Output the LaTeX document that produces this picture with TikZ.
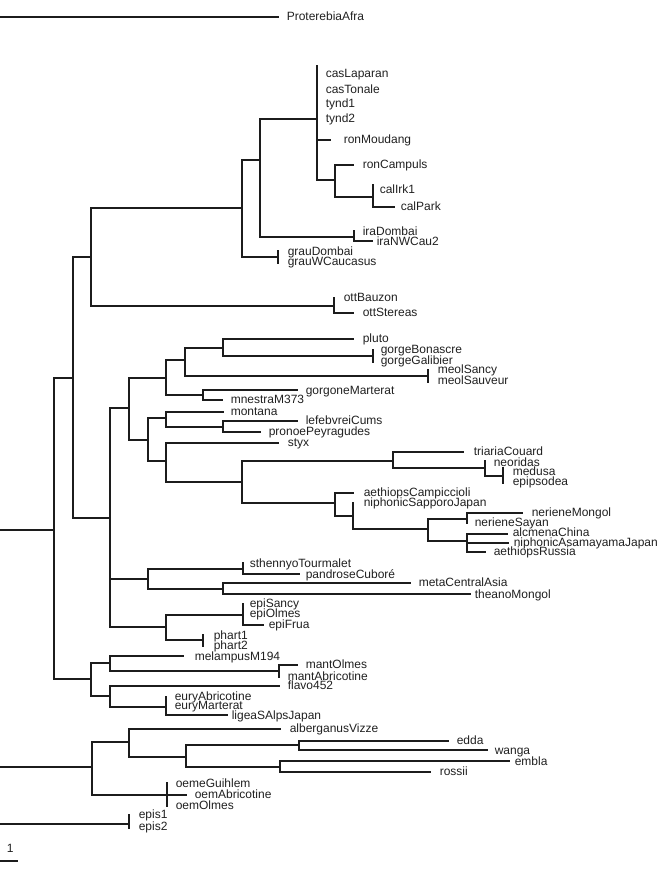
\documentclass[tikz,border=0pt]{standalone}
\usepackage{fontspec}
\setmainfont{Liberation Sans}
\definecolor{branch}{HTML}{1C1C1C}
\definecolor{ink}{HTML}{202020}

\begin{document}
\begin{tikzpicture}[
    x=0.75pt, y=-0.75pt,
    line width=1.15pt, line cap=rect, color=branch,
    tip/.style={anchor=mid west, inner sep=0pt, text=ink,
                font=\fontsize{9}{10}\selectfont}]
  % canvas in pixels of the reference
  \path[use as bounding box] (0,0) rectangle (659,874);

  % ================= root and outgroup =================
  \draw (0,17) -- (278,17);
  \draw (0,530) -- (54,530);
  \draw (0,767) -- (92,767);
  \draw (0,824) -- (129,824);
  \node[tip] (proterebia) at (286,17) {ProterebiaAfra};

  % ================= upper clades =================
  \draw (73,378) -- (54,378) -- (54,679) -- (91,679);
  \draw (91,257) -- (73,257) -- (73,518) -- (110,518);
  \draw (242,208) -- (91,208) -- (91,306) -- (334,306);
  % ott
  \draw (334,298) -- (334,313) -- (353,313);
  \node[tip] (ottBauzon) at (343,298) {ottBauzon};
  \node[tip] (ottStereas) at (362,313) {ottStereas};
  % grau
  \draw (260,160) -- (242,160) -- (242,257) -- (278,257);
  \draw (278,251) -- (278,263);
  \node[tip] (grauDombai) at (287,252) {grauDombai};
  \node[tip] (grauWCaucasus) at (287,262) {grauWCaucasus};
  % ira
  \draw (317,119) -- (260,119) -- (260,237) -- (354,237);
  \draw (354,231) -- (354,241) -- (372,241);
  \node[tip] (iraDombai) at (362,232) {iraDombai};
  \node[tip] (iraNWCau2) at (376,242) {iraNWCau2};
  % cas, tynd, ron, cal
  \draw (317,66) -- (317,180) -- (335,180);
  \draw (317,140) -- (330,140);
  \node[tip] (casLaparan) at (325,74) {casLaparan};
  \node[tip] (casTonale) at (325,90) {casTonale};
  \node[tip] (tyndA) at (325,104) {tynd1};
  \node[tip] (tyndB) at (325,119) {tynd2};
  \node[tip] (ronMoudang) at (343,140) {ronMoudang};
  \draw (353,165) -- (335,165) -- (335,197) -- (373,197);
  \node[tip] (ronCampuls) at (362,165) {ronCampuls};
  \draw (373,185) -- (373,207) -- (394,207);
  \node[tip] (calIrk) at (379,190) {calIrk1};
  \node[tip] (calPark) at (400,207) {calPark};

  % ================= middle clades =================
  \draw (129,408) -- (110,408) -- (110,627) -- (166,627);
  \draw (110,579) -- (148,579);
  \draw (166,378) -- (129,378) -- (129,440) -- (148,440);
  \draw (185,360) -- (166,360) -- (166,395) -- (203,395);
  \draw (223,348) -- (185,348) -- (185,376) -- (428,376);
  \draw (428,370) -- (428,382);
  \node[tip] (meolSancy) at (437,370) {meolSancy};
  \node[tip] (meolSauveur) at (437,381) {meolSauveur};
  \draw (353,339) -- (223,339) -- (223,356) -- (373,356);
  \draw (373,350) -- (373,362);
  \node[tip] (pluto) at (362,339) {pluto};
  \node[tip] (gorgeBonascre) at (380,350) {gorgeBonascre};
  \node[tip] (gorgeGalibier) at (380,361) {gorgeGalibier};
  \draw (297,390) -- (203,390) -- (203,400) -- (222,400);
  \node[tip] (gorgoneMarterat) at (305,391) {gorgoneMarterat};
  \node[tip] (mnestra) at (230,400) {mnestraM373};
  % montana, lefebvrei, pronoe
  \draw (166,418) -- (148,418) -- (148,461) -- (166,461);
  \draw (223,412) -- (166,412) -- (166,427) -- (223,427);
  \draw (297,421) -- (223,421) -- (223,432) -- (260,432);
  \node[tip] (montana) at (230,412) {montana};
  \node[tip] (lefebvreiCums) at (305,421) {lefebvreiCums};
  \node[tip] (pronoePeyragudes) at (268,432) {pronoePeyragudes};
  % styx and relatives
  \draw (278,443) -- (166,443) -- (166,482) -- (242,482);
  \node[tip] (styx) at (287,443) {styx};
  \draw (393,461) -- (242,461) -- (242,503) -- (335,503);
  \draw (463,452) -- (393,452) -- (393,468) -- (485,468);
  \node[tip] (triariaCouard) at (473,452) {triariaCouard};
  \draw (485,461) -- (485,476) -- (503,476);
  \draw (503,468) -- (503,483);
  \node[tip] (neoridas) at (493,463) {neoridas};
  \node[tip] (medusa) at (512,472) {medusa};
  \node[tip] (epipsodea) at (512,482) {epipsodea};
  % aethiops, niphonic, neriene
  \draw (353,493) -- (335,493) -- (335,516) -- (353,516);
  \draw (353,503) -- (353,529) -- (428,529);
  \node[tip] (aethiopsCamp) at (363,493) {aethiopsCampiccioli};
  \node[tip] (niphonicSapporo) at (363,503) {niphonicSapporoJapan};
  \draw (467,519) -- (428,519) -- (428,541) -- (467,541);
  \draw (522,513) -- (467,513) -- (467,523);
  \node[tip] (nerieneMongol) at (531,513) {nerieneMongol};
  \node[tip] (nerieneSayan) at (474,523) {nerieneSayan};
  \draw (507,534) -- (467,534) -- (467,552) -- (485,552);
  \draw (467,543) -- (508,543);
  \node[tip] (alcmenaChina) at (512,533) {alcmenaChina};
  \node[tip] (niphonicAsama) at (513,543) {niphonicAsamayamaJapan};
  \node[tip] (aethiopsRussia) at (493,552) {aethiopsRussia};
  % sthennyo, pandrose, meta, theano
  \draw (243,569) -- (148,569) -- (148,589) -- (223,589);
  \draw (243,563) -- (243,574) -- (299,574);
  \node[tip] (sthennyo) at (249,564) {sthennyoTourmalet};
  \node[tip] (pandrose) at (305,575) {pandroseCuboré};
  \draw (410,583) -- (223,583) -- (223,594) -- (470,594);
  \node[tip] (metaCentralAsia) at (418,583) {metaCentralAsia};
  \node[tip] (theanoMongol) at (474,595) {theanoMongol};
  % epi, phart
  \draw (243,615) -- (166,615) -- (166,640) -- (203,640);
  \draw (243,604) -- (243,625) -- (263,625);
  \node[tip] (epiSancy) at (249,604) {epiSancy};
  \node[tip] (epiOlmes) at (249,614) {epiOlmes};
  \node[tip] (epiFrua) at (268,625) {epiFrua};
  \draw (203,635) -- (203,646);
  \node[tip] (phartA) at (213,636) {phart1};
  \node[tip] (phartB) at (213,646) {phart2};

  % ================= melampus, mant, eury =================
  \draw (110,663) -- (91,663) -- (91,696) -- (110,696);
  \draw (183,656) -- (110,656) -- (110,671) -- (279,671);
  \draw (279,677) -- (279,665) -- (297,665);
  \node[tip] (melampus) at (194,657) {melampusM194};
  \node[tip] (mantOlmes) at (305,665) {mantOlmes};
  \node[tip] (mantAbricotine) at (287,677) {mantAbricotine};
  \draw (279,686) -- (110,686) -- (110,707) -- (166,707);
  \node[tip] (flavo) at (287,686) {flavo452};
  \draw (166,697) -- (166,715) -- (227,715);
  \node[tip] (euryAbricotine) at (174,697) {euryAbricotine};
  \node[tip] (euryMarterat) at (174,706) {euryMarterat};
  \node[tip] (ligea) at (231,716) {ligeaSAlpsJapan};

  % ================= lower clade =================
  \draw (129,742) -- (92,742) -- (92,795) -- (167,795);
  \draw (280,729) -- (129,729) -- (129,757) -- (186,757);
  \node[tip] (alberganus) at (289,729) {alberganusVizze};
  \draw (299,745) -- (186,745) -- (186,767) -- (280,767);
  \draw (448,741) -- (299,741) -- (299,750) -- (487,750);
  \node[tip] (edda) at (456,741) {edda};
  \node[tip] (wanga) at (494,751) {wanga};
  \draw (509,761) -- (280,761) -- (280,772) -- (430,772);
  \node[tip] (embla) at (514,762) {embla};
  \node[tip] (rossii) at (439,772) {rossii};
  \draw (167,783) -- (167,806);
  \draw (167,795) -- (186,795);
  \node[tip] (oemeGuihlem) at (175,784) {oemeGuihlem};
  \node[tip] (oemAbricotine) at (194,795) {oemAbricotine};
  \node[tip] (oemOlmes) at (175,806) {oemOlmes};
  % epis
  \draw (129,815) -- (129,828);
  \node[tip] (episA) at (138,815) {epis1};
  \node[tip] (episB) at (138,827) {epis2};

  % ================= scale =================
  \draw (0,861) -- (17,861);
  \node[tip] (scale) at (6,849) {1};
\end{tikzpicture}
\end{document}
